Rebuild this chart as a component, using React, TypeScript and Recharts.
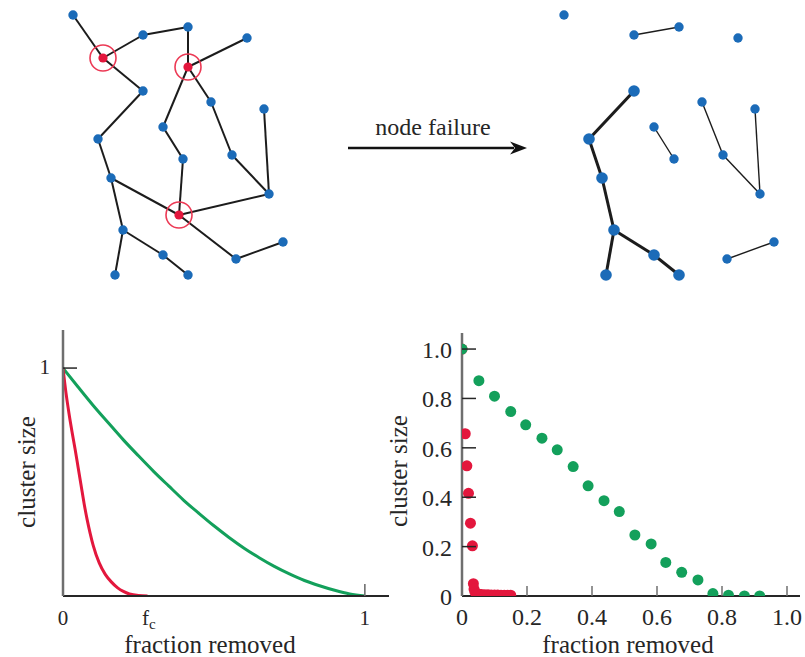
import React from 'react';
import { ScatterChart, Scatter, LineChart, Line, XAxis, YAxis } from 'recharts';

// ---------- network (top) : node layout in the diagram's own units ----------
const nodeX = [73, 143, 188, 247, 103, 188, 143, 211, 264, 163, 98, 183, 232, 111, 269, 179, 123, 163, 283, 236, 115, 188];
const nodeY = [15, 35, 27, 38, 58, 67, 91, 102, 109, 127, 139, 159, 155, 178, 194, 215, 230, 255, 242, 259, 275, 275];
const edgeFrom = [0, 4, 1, 2, 5, 4, 6, 10, 13, 13, 16, 16, 17, 5, 9, 11, 5, 7, 12, 14, 14, 15, 19];
const edgeTo = [4, 1, 2, 5, 3, 6, 10, 13, 15, 16, 20, 17, 21, 9, 11, 15, 7, 12, 14, 8, 15, 19, 18];
const failedNodes = [4, 5, 15];
const AFTER_SHIFT = 491;
const arrowLabel = 'node failure';

// ---------- left chart: idealised cluster-size curves ----------
const randomCurveX = [0, 0.05, 0.1, 0.15, 0.2, 0.25, 0.3, 0.35, 0.4, 0.45, 0.5, 0.55, 0.6, 0.65, 0.7, 0.75, 0.8, 0.85, 0.9, 0.95, 1];
const randomCurveY = [1, 0.917, 0.836, 0.76, 0.685, 0.615, 0.547, 0.483, 0.42, 0.363, 0.308, 0.257, 0.21, 0.168, 0.13, 0.097, 0.068, 0.045, 0.025, 0.009, 0];
const attackCurveX = [0, 0.01, 0.02, 0.03, 0.04, 0.05, 0.06, 0.07, 0.08, 0.09, 0.1, 0.12, 0.14, 0.16, 0.18, 0.2, 0.22, 0.25, 0.28];
const attackCurveY = [1, 0.89, 0.8, 0.72, 0.645, 0.565, 0.485, 0.405, 0.335, 0.275, 0.222, 0.145, 0.095, 0.062, 0.037, 0.02, 0.009, 0.002, 0];
const FC = 0.275;
const leftTicksX = [0, FC, 1];
const leftTicksY = [1];

// ---------- right chart: simulated points ----------
const greenPtsX = [0, 0.052, 0.1, 0.15, 0.196, 0.246, 0.293, 0.342, 0.388, 0.437, 0.484, 0.532, 0.582, 0.627, 0.676, 0.726, 0.772, 0.82, 0.869, 0.916];
const greenPtsY = [1.0, 0.872, 0.809, 0.747, 0.693, 0.639, 0.592, 0.524, 0.446, 0.386, 0.342, 0.247, 0.211, 0.136, 0.096, 0.065, 0.01, 0.003, 0, 0];
const redPtsX = [0, 0.01, 0.015, 0.02, 0.026, 0.032, 0.035, 0.037, 0.04, 0.045, 0.05, 0.06, 0.07, 0.08, 0.09, 0.1, 0.11, 0.12, 0.13, 0.14, 0.15];
const redPtsY = [1.0, 0.657, 0.527, 0.416, 0.295, 0.203, 0.05, 0.028, 0.015, 0.01, 0.008, 0.006, 0.005, 0.005, 0.004, 0.004, 0.004, 0.003, 0.003, 0.003, 0.003];
const rightTicks = [0, 0.2, 0.4, 0.6, 0.8, 1.0];

// ---------- styles ----------
const FONT = '"Liberation Serif", "Times New Roman", serif';
const TEXT = '#262626';
const GREEN = '#13a05b';
const RED = '#e3173d';
const RING = '#ec3a55';
const BLUE = '#1b6bb8';
const EDGE = '#1c1c1c';
const AXIS_DARK = '#262626';
const AXIS_GRAY = '#6f6f6f';

const zip = (xs: number[], ys: number[]) => xs.map((x, i) => ({ x, y: ys[i] }));

const Empty = () => <g />;

function NetworkPanel() {
  const failed = new Set(failedNodes);
  const nodes = nodeX.map((x, i) => ({ id: i, x, y: nodeY[i] }));
  const edges = edgeFrom.map((a, i) => [a, edgeTo[i]]);
  const liveEdges = edges.filter(([a, b]) => !failed.has(a) && !failed.has(b));

  // largest surviving component
  const parent = nodes.map((n) => n.id);
  const find = (i: number): number => (parent[i] === i ? i : (parent[i] = find(parent[i])));
  liveEdges.forEach(([a, b]) => {
    parent[find(a)] = find(b);
  });
  const sizes: Record<number, number> = {};
  nodes.forEach((n) => {
    if (!failed.has(n.id)) {
      const r = find(n.id);
      sizes[r] = (sizes[r] || 0) + 1;
    }
  });
  const giantRoot = Number(Object.keys(sizes).reduce((a, b) => (sizes[+a] >= sizes[+b] ? a : b)));
  const inGiant = (i: number) => find(i) === giantRoot;

  const after = nodes
    .filter((n) => !failed.has(n.id))
    .map((n) => ({ ...n, x: n.x + AFTER_SHIFT, giant: inGiant(n.id) }));
  const afterById: Record<number, any> = {};
  after.forEach((n) => (afterById[n.id] = n));

  const NodeDot = (p: any) => <circle cx={p.cx} cy={p.cy} r={p.payload && p.payload.giant ? 5.8 : 4.7} fill={BLUE} />;
  const FailedMark = (p: any) => (
    <g>
      <circle cx={p.cx} cy={p.cy} r={13} fill="none" stroke={RING} strokeWidth={1.6} />
      <circle cx={p.cx} cy={p.cy} r={4.6} fill={RED} />
    </g>
  );
  const ArrowHead = (p: any) => (
    <polygon
      points={`${p.cx},${p.cy} ${p.cx - 17},${p.cy - 6.5} ${p.cx - 12},${p.cy} ${p.cx - 17},${p.cy + 6.5}`}
      fill="#111"
    />
  );
  const ArrowText = (p: any) => (
    <text x={p.cx} y={p.cy} textAnchor="middle" fontFamily={FONT} fontSize={24} fill={TEXT}>
      {arrowLabel}
    </text>
  );

  return (
    <ScatterChart width={805} height={300} margin={{ top: 0, right: 0, bottom: 0, left: 0 }}>
      <XAxis type="number" dataKey="x" domain={[0, 805]} hide />
      <YAxis type="number" dataKey="y" domain={[0, 300]} reversed hide />
      {edges.map(([a, b], i) => (
        <Scatter
          key={'e' + i}
          data={[nodes[a], nodes[b]]}
          line={{ stroke: EDGE, strokeWidth: 2 }}
          shape={Empty}
          isAnimationActive={false}
        />
      ))}
      {liveEdges.map(([a, b], i) => {
        const thick = afterById[a].giant && afterById[b].giant;
        return (
          <Scatter
            key={'a' + i}
            data={[afterById[a], afterById[b]]}
            line={{ stroke: EDGE, strokeWidth: thick ? 3 : 1.4 }}
            shape={Empty}
            isAnimationActive={false}
          />
        );
      })}
      <Scatter data={nodes.filter((n) => !failed.has(n.id))} shape={NodeDot} isAnimationActive={false} />
      <Scatter data={nodes.filter((n) => failed.has(n.id))} shape={FailedMark} isAnimationActive={false} />
      <Scatter data={after} shape={NodeDot} isAnimationActive={false} />
      <Scatter
        data={[{ x: 348, y: 148 }, { x: 514, y: 148 }]}
        line={{ stroke: '#111', strokeWidth: 2.6 }}
        shape={Empty}
        isAnimationActive={false}
      />
      <Scatter data={[{ x: 527, y: 148 }]} shape={ArrowHead} isAnimationActive={false} />
      <Scatter data={[{ x: 433, y: 135 }]} shape={ArrowText} isAnimationActive={false} />
    </ScatterChart>
  );
}

function LeftChart() {
  const XTick = (p: any) => {
    const v = p.payload.value;
    const isFc = Math.abs(v - FC) < 1e-9;
    return (
      <g>
        {v === 1 && <line x1={p.x} y1={p.y} x2={p.x} y2={p.y - 12} stroke={AXIS_GRAY} strokeWidth={1.6} />}
        {isFc ? (
          <text x={p.x - 4} y={p.y + 29} fontFamily={FONT} fontSize={21} fill={TEXT}>
            f<tspan dy={4} fontSize={15}>c</tspan>
          </text>
        ) : (
          <text x={p.x} y={p.y + 29} textAnchor="middle" fontFamily={FONT} fontSize={21} fill={TEXT}>
            {String(v)}
          </text>
        )}
      </g>
    );
  };
  const YTick = (p: any) => (
    <g>
      <line x1={p.x} y1={p.y} x2={p.x + 14} y2={p.y} stroke={AXIS_DARK} strokeWidth={1.5} />
      <text x={p.x - 13} y={p.y + 6} textAnchor="end" fontFamily={FONT} fontSize={21} fill={TEXT}>
        {String(p.payload.value)}
      </text>
    </g>
  );
  return (
    <LineChart width={400} height={337} margin={{ top: 10, right: 11, bottom: 0, left: 0 }}>
      <XAxis
        type="number"
        dataKey="x"
        domain={[0, 1.08]}
        ticks={leftTicksX}
        interval={0}
        allowDataOverflow
        height={61}
        axisLine={{ stroke: AXIS_DARK, strokeWidth: 2 }}
        tickLine={false}
        tickSize={0}
        tickMargin={0}
        tick={XTick}
        label={() => (
          <text x={210} y={333} textAnchor="middle" fontFamily={FONT} fontSize={25} fill={TEXT}>
            fraction removed
          </text>
        )}
      />
      <YAxis
        type="number"
        dataKey="y"
        domain={[0, 1.167]}
        ticks={leftTicksY}
        interval={0}
        allowDataOverflow
        width={63}
        axisLine={{ stroke: AXIS_GRAY, strokeWidth: 2.5 }}
        tickLine={false}
        tickSize={0}
        tickMargin={0}
        tick={YTick}
        label={() => (
          <text x={35} y={152} transform="rotate(-90 35 152)" textAnchor="middle" fontFamily={FONT} fontSize={25} fill={TEXT}>
            cluster size
          </text>
        )}
      />
      <Line data={zip(randomCurveX, randomCurveY)} dataKey="y" type="monotone" stroke={GREEN} strokeWidth={3} dot={false} isAnimationActive={false} />
      <Line data={zip(attackCurveX, attackCurveY)} dataKey="y" type="monotone" stroke={RED} strokeWidth={3} dot={false} isAnimationActive={false} />
    </LineChart>
  );
}

function RightChart() {
  const fmt = (v: number) => (v === 0 ? '0' : v.toFixed(1));
  const XTick = (p: any) => (
    <g>
      {p.payload.value !== 0 && <line x1={p.x} y1={p.y} x2={p.x} y2={p.y - 10} stroke={AXIS_GRAY} strokeWidth={1.5} />}
      <text x={p.x} y={p.y + 29} textAnchor="middle" fontFamily={FONT} fontSize={24} fill={TEXT}>
        {fmt(p.payload.value)}
      </text>
    </g>
  );
  const YTick = (p: any) => (
    <g>
      {p.payload.value !== 0 && <line x1={p.x} y1={p.y} x2={p.x + 14} y2={p.y} stroke={AXIS_DARK} strokeWidth={1.5} />}
      <text x={p.x - 10} y={p.y + 9} textAnchor="end" fontFamily={FONT} fontSize={24} fill={TEXT}>
        {fmt(p.payload.value)}
      </text>
    </g>
  );
  const Dot = (color: string) => (p: any) => <circle cx={p.cx} cy={p.cy} r={5.5} fill={color} />;
  return (
    <ScatterChart width={425} height={337} margin={{ top: 13, right: 5, bottom: 0, left: 0 }}>
      <XAxis
        type="number"
        dataKey="x"
        domain={[0, 1.04]}
        ticks={rightTicks}
        interval={0}
        allowDataOverflow
        height={61}
        axisLine={{ stroke: AXIS_DARK, strokeWidth: 2 }}
        tickLine={false}
        tickSize={0}
        tickMargin={0}
        tick={XTick}
        label={() => (
          <text x={248} y={333} textAnchor="middle" fontFamily={FONT} fontSize={25} fill={TEXT}>
            fraction removed
          </text>
        )}
      />
      <YAxis
        type="number"
        dataKey="y"
        domain={[0, 1.065]}
        ticks={rightTicks}
        interval={0}
        allowDataOverflow
        width={82}
        axisLine={{ stroke: AXIS_GRAY, strokeWidth: 2.5 }}
        tickLine={false}
        tickSize={0}
        tickMargin={0}
        tick={YTick}
        label={() => (
          <text x={27} y={151} transform="rotate(-90 27 151)" textAnchor="middle" fontFamily={FONT} fontSize={25} fill={TEXT}>
            cluster size
          </text>
        )}
      />
      <Scatter data={zip(redPtsX, redPtsY)} shape={Dot(RED)} isAnimationActive={false} />
      <Scatter data={zip(greenPtsX, greenPtsY)} shape={Dot(GREEN)} isAnimationActive={false} />
    </ScatterChart>
  );
}

export default function App() {
  return (
    <div style={{ position: 'absolute', left: 0, top: 0, width: 805, height: 657, background: '#fff', overflow: 'hidden' }}>
      <div style={{ position: 'absolute', left: 0, top: 0 }}>
        <NetworkPanel />
      </div>
      <div style={{ position: 'absolute', left: 0, top: 320 }}>
        <LeftChart />
      </div>
      <div style={{ position: 'absolute', left: 380, top: 320 }}>
        <RightChart />
      </div>
    </div>
  );
}
